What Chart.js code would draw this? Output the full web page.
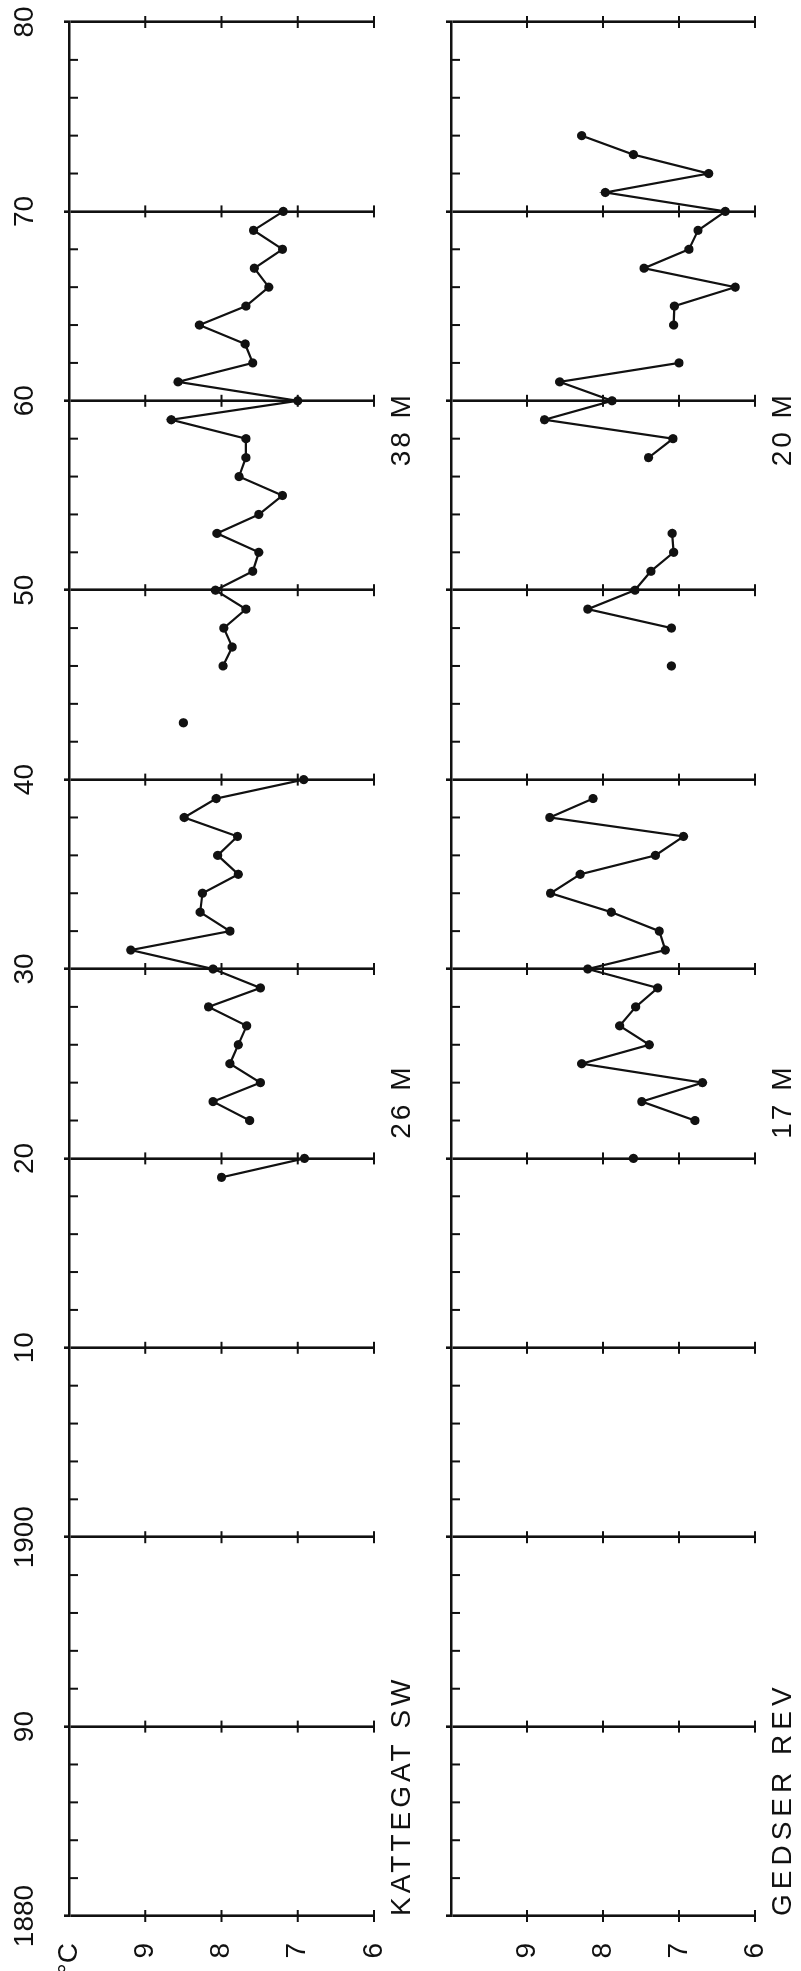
<!DOCTYPE html>
<html>
<head>
<meta charset="utf-8">
<title>Kattegat SW / Gedser Rev</title>
<script src="https://cdn.jsdelivr.net/npm/chart.js@4.4.1/dist/chart.umd.min.js"></script>
<style>
  html, body { margin: 0; padding: 0; background: #fff; overflow: hidden; width: 801px; height: 1971px; }
  /* the sheet is drawn landscape and turned a quarter turn, like the printed page */
  #sheet { position: absolute; left: 0; top: 0; width: 1971px; height: 801px;
           transform-origin: 0 0; transform: translateY(1971px) rotate(-90deg); }
  #sheet canvas { position: absolute; left: 0; }
</style>
</head>
<body>
<div id="sheet">
  <canvas id="kattegat" width="1971" height="430" style="top:0"></canvas>
  <canvas id="gedser" width="1971" height="401" style="top:400px"></canvas>
</div>

<script>
// axes
const yearTicks = [1880, 1890, 1900, 1910, 1920, 1930, 1940, 1950, 1960, 1970, 1980];
const yearTickLabels = ['1880', '90', '1900', '10', '20', '30', '40', '50', '60', '70', '80'];
const tempTicks = [10, 9, 8, 7, 6];
const kattegatTempLabels = ['°C', '9', '8', '7', '6'];
const gedserTempLabels = ['', '9', '8', '7', '6'];
const degreeMarks = [9, 8, 7, 6];

// Kattegat SW (26 m to 1940, 38 m after), null = no observation
const kattegatYears = [1919, 1920, 1921, 1922, 1923, 1924, 1925, 1926, 1927, 1928,
  1929, 1930, 1931, 1932, 1933, 1934, 1935, 1936, 1937, 1938, 1939, 1940, 1941, 1942,
  1943, 1944, 1945, 1946, 1947, 1948, 1949, 1950, 1951, 1952, 1953, 1954, 1955, 1956,
  1957, 1958, 1959, 1960, 1961, 1962, 1963, 1964, 1965, 1966, 1967, 1968, 1969, 1970];
const kattegatTemps = [8.00, 6.91, null, 7.63, 8.11, 7.49, 7.89, 7.78, 7.67, 8.17,
  7.49, 8.11, 9.19, 7.89, 8.28, 8.25, 7.78, 8.05, 7.79, 8.49, 8.07, 6.92, null, null,
  8.50, null, null, 7.98, 7.86, 7.97, 7.68, 8.08, 7.59, 7.51, 8.06, 7.51, 7.20, 7.77,
  7.68, 7.68, 8.66, 7.00, 8.57, 7.59, 7.69, 8.29, 7.68, 7.38, 7.57, 7.20, 7.58, 7.19];

// Gedser Rev (17 m to 1939, 20 m after)
const gedserYears = [1920, 1921, 1922, 1923, 1924, 1925, 1926, 1927, 1928, 1929,
  1930, 1931, 1932, 1933, 1934, 1935, 1936, 1937, 1938, 1939, 1940, 1941, 1942, 1943,
  1944, 1945, 1946, 1947, 1948, 1949, 1950, 1951, 1952, 1953, 1954, 1955, 1956, 1957,
  1958, 1959, 1960, 1961, 1962, 1963, 1964, 1965, 1966, 1967, 1968, 1969, 1970, 1971,
  1972, 1973, 1974];
const gedserTemps = [7.60, null, 6.79, 7.49, 6.69, 8.28, 7.39, 7.78, 7.57, 7.28,
  8.20, 7.18, 7.26, 7.89, 8.69, 8.30, 7.31, 6.94, 8.70, 8.13, null, null, null, null,
  null, null, 7.10, null, 7.10, 8.20, 7.58, 7.37, 7.07, 7.09, null, null, null, 7.40,
  7.08, 8.77, 7.88, 8.57, 7.00, null, 7.07, 7.06, 6.26, 7.46, 6.87, 6.75, 6.39, 7.97,
  6.61, 7.60, 8.28];

const INK = '#111';
const FONT = { family: '"Liberation Sans", Arial, sans-serif', size: 28 };

// small marks the library has no option for, plus the hand-lettered notes
const marks = {
  id: 'marks',
  afterDatasetsDraw(chart, args, opts) {
    const { ctx, chartArea: a, scales: { x, y } } = chart;
    ctx.save();
    ctx.strokeStyle = INK;
    ctx.lineWidth = 2;
    ctx.beginPath();
    for (let yr = 1882; yr < 1980; yr += 2) {
      if (yr % 10 === 0) continue;
      const px = x.getPixelForValue(yr);
      ctx.moveTo(px, a.top);
      ctx.lineTo(px, a.top + 9);
    }
    yearTicks.forEach(yr => {
      const px = x.getPixelForValue(yr);
      degreeMarks.forEach(t => {
        const py = y.getPixelForValue(t);
        ctx.moveTo(px - 6, py);
        ctx.lineTo(px + 6, py);
      });
    });
    ctx.stroke();

    ctx.fillStyle = INK;
    ctx.font = FONT.size + 'px ' + FONT.family;
    ctx.textBaseline = 'middle';
    opts.notes.forEach(n => {
      ctx.textAlign = n.align || 'center';
      ctx.letterSpacing = (n.spacing || 3) + 'px';
      ctx.fillText(n.text, x.getPixelForValue(n.year), a.bottom + opts.gap);
    });
    ctx.restore();
  }
};

function panel(id, years, temps, tempLabels, showYears, axisHeight, bottomPad, notes) {
  return new Chart(document.getElementById(id), {
    type: 'line',
    data: {
      datasets: [{
        data: years.map((yr, i) => ({ x: yr, y: temps[i] })),
        borderColor: INK,
        borderWidth: 2.2,
        backgroundColor: INK,
        pointRadius: 4.6,
        pointBackgroundColor: INK,
        pointBorderWidth: 0,
        spanGaps: false,
        tension: 0
      }]
    },
    options: {
      responsive: false,
      animation: false,
      layout: { padding: { top: 0, right: 22, bottom: bottomPad, left: 0 } },
      plugins: {
        legend: { display: false },
        tooltip: { enabled: false },
        marks: { notes: notes, gap: 28 }
      },
      scales: {
        x: {
          type: 'linear',
          position: 'top',
          min: 1880,
          max: 1980,
          afterBuildTicks: s => { s.ticks = yearTicks.map(v => ({ value: v })); },
          afterFit: s => {
            s.height = axisHeight;
            s.paddingLeft = 0;   // both panels share the same year scale
            s.paddingRight = 0;
          },
          ticks: {
            display: showYears,
            autoSkip: false,
            maxRotation: 0,
            padding: 22,
            color: INK,
            font: FONT,
            callback: v => yearTickLabels[yearTicks.indexOf(v)]
          },
          grid: { color: INK, lineWidth: 2.6, drawTicks: true, tickLength: 5 },
          border: { display: true, color: INK, width: 2.6 }
        },
        y: {
          min: 6,
          max: 10,
          afterBuildTicks: s => { s.ticks = tempTicks.map(v => ({ value: v })); },
          afterFit: s => { s.width = 55; },
          ticks: {
            padding: 19,
            color: INK,
            font: FONT,
            callback: v => tempLabels[tempTicks.indexOf(v)]
          },
          grid: { display: false },
          border: { display: false }
        }
      }
    },
    plugins: [marks]
  });
}

panel('kattegat', kattegatYears, kattegatTemps, kattegatTempLabels, true, 69, 56, [
  { text: 'KATTEGAT SW', year: 1880, align: 'left', spacing: 4 },
  { text: '26 M', year: 1923 },
  { text: '38 M', year: 1958.5 }
]);
panel('gedser', gedserYears, gedserTemps, gedserTempLabels, false, 51, 46, [
  { text: 'GEDSER REV', year: 1880, align: 'left', spacing: 5 },
  { text: '17 M', year: 1923 },
  { text: '20 M', year: 1958.5 }
]);
</script>
</body>
</html>
